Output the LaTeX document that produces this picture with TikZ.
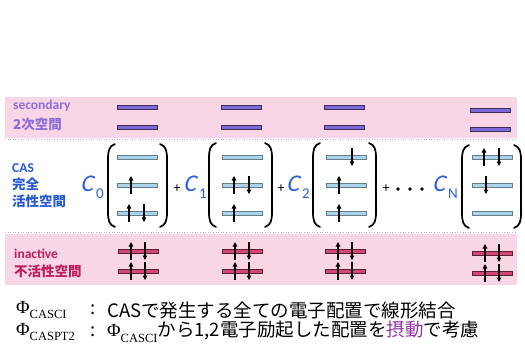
\documentclass[tikz,border=0pt]{standalone}
\usepackage{fontspec}
\setmainfont{Carlito}
\newfontfamily\jp{Noto Sans CJK JP}
\newfontfamily\slantC{Carlito}[FakeSlant=0.22]
\newfontfamily\serifA{Liberation Serif}
\usetikzlibrary{arrows.meta}
\definecolor{band}{RGB}{248,214,230}
\definecolor{secfill}{RGB}{125,105,215}
\definecolor{secdraw}{RGB}{60,45,90}
\definecolor{casfill}{RGB}{170,212,236}
\definecolor{casdraw}{RGB}{100,125,140}
\definecolor{inafill}{RGB}{212,70,120}
\definecolor{inadraw}{RGB}{90,30,50}
\definecolor{seclab}{RGB}{140,110,215}
\definecolor{caslab}{RGB}{40,90,210}
\definecolor{inalab}{RGB}{190,30,90}
\definecolor{coef}{RGB}{45,95,220}
\definecolor{pert}{RGB}{150,50,170}
\definecolor{dotline}{RGB}{195,175,205}
\newcommand\olev[3]{\draw[#1] (#2,#3-2) rectangle ++(40,4);}
\newcommand\eup[2]{\draw[elec] (#1,#2+9) -- (#1,#2-9);}
\newcommand\edn[2]{\draw[elec] (#1,#2-9) -- (#1,#2+9);}
\newcommand\lbr[3]{\draw[brk] (#1+7,#2) .. controls (#1+1,#2+2) and (#1,#2+7) .. (#1,#2+15) -- (#1,#3-15) .. controls (#1,#3-7) and (#1+1,#3-2) .. (#1+7,#3);}
\newcommand\rbr[3]{\draw[brk] (#1-7,#2) .. controls (#1-1,#2+2) and (#1,#2+7) .. (#1,#2+15) -- (#1,#3-15) .. controls (#1,#3-7) and (#1-1,#3-2) .. (#1-7,#3);}
\newcommand\coefC[1]{{\slantC C}\kern3pt\raisebox{-0.28em}{\fontsize{15}{15}\selectfont #1}}
\newcommand\phisub[1]{{\serifA Φ\raisebox{-0.32em}{\fontsize{12.5}{12.5}\selectfont #1}}}
\begin{document}
\begin{tikzpicture}[x=1pt,y=-1pt,
  seclev/.style={fill=secfill,draw=secdraw,line width=0.6pt},
  caslev/.style={fill=casfill,draw=casdraw,line width=0.6pt},
  inalev/.style={fill=inafill,draw=inadraw,line width=0.6pt},
  elec/.style={line width=1.2pt,-{Triangle[length=4.5pt,width=4.5pt]}},
  brk/.style={line width=1.7pt,line cap=round},
  lab/.style={anchor=west,inner sep=0pt,font=\fontsize{13.5}{16}\selectfont\bfseries},
  coefnode/.style={anchor=east,inner sep=0pt,text=coef,font=\fontsize{24}{26}\selectfont},
  plus/.style={inner sep=0pt,font=\fontsize{14}{16}\selectfont},
  bottom/.style={anchor=west,inner sep=0pt,font=\jp\fontsize{18.5}{22}\selectfont},
  phi/.style={anchor=west,inner sep=0pt,font=\fontsize{18.5}{22}\selectfont}]
\useasboundingbox (0,0) rectangle (525,349);
% bands
\fill[band] (5,97) rectangle (517,138);
\fill[band] (5,234) rectangle (517,285);
\draw[dotline,dotted,line width=0.6pt] (5,139) -- (517,139);
\draw[dotline,dotted,line width=0.6pt] (5,232) -- (517,232);
% labels
\node[lab,text=seclab] (secA) at (13,106) {secondary};
\node[lab,text=seclab] (secB) at (13,124) {\jp 2次空間};
\node[lab,text=caslab] (casA) at (12,168) {CAS};
\node[lab,text=caslab] (casB) at (12,184) {\jp 完全};
\node[lab,text=caslab] (casC) at (12,201) {\jp 活性空間};
\node[lab,text=inalab] (inaA) at (14,254) {inactive};
\node[lab,text=inalab] (inaB) at (14,271) {\jp 不活性空間};
% secondary levels
\foreach \x in {117,221,324}{\olev{seclev}{\x}{107}\olev{seclev}{\x}{127}}
\olev{seclev}{470}{110}\olev{seclev}{470}{129}
% inactive levels
\foreach \x in {118,222,325}{
  \olev{inalev}{\x}{251}\olev{inalev}{\x}{271}
  \eup{\x+13}{251}\edn{\x+27}{251}\eup{\x+13}{271}\edn{\x+27}{271}}
\olev{inalev}{472}{253}\olev{inalev}{472}{273}
\eup{485}{253}\edn{499}{253}\eup{485}{273}\edn{499}{273}
% CAS levels
\foreach \x in {117,222,326,472}{\olev{caslev}{\x}{157}\olev{caslev}{\x}{185}\olev{caslev}{\x}{213}}
% column 1
\eup{131}{185}
\eup{129}{213}\edn{144}{213}
% column 2
\eup{234}{185}\edn{249}{185}
\eup{234}{213}
% column 3
\edn{352}{157}
\eup{339}{185}
\eup{339}{213}
% column 4
\eup{484}{157}\edn{499}{157}
\edn{486}{185}
% brackets
\lbr{108}{144}{227}\rbr{167}{144}{227}
\lbr{209}{143}{227}\rbr{272}{143}{227}
\lbr{313}{143}{227}\rbr{376}{143}{227}
\lbr{462}{145}{228}\rbr{521}{145}{228}
% coefficients
\node[coefnode] (c0) at (104,187) {\coefC{0}};
\node[coefnode] (c1) at (207,187) {\coefC{1}};
\node[coefnode] (c2) at (310,187) {\coefC{2}};
\node[coefnode] (cN) at (458,187) {\coefC{N}};
\node[plus] (p1) at (177,189) {+};
\node[plus] (p2) at (281,189) {+};
\node[plus] (p3) at (386,189) {+};
\foreach \x in {398,410,422}{\fill (\x,189) circle (1.8);}
% bottom text
\node[phi] (phiA) at (16,310) {\phisub{CASCI}};
\node[bottom] (colA) at (90,310) {:};
\node[bottom] (txtA) at (107,310) {CASで発生する全ての電子配置で線形結合};
\node[phi] (phiB) at (16,332) {\phisub{CASPT2}};
\node[bottom] (colB) at (90,332) {:};
\node[bottom] (txtB) at (107,332) {{\fontsize{18.5}{22}\selectfont\phisub{CASCI}}から1,2電子励起した配置を\textcolor{pert}{摂動}で考慮};
\end{tikzpicture}
\end{document}
